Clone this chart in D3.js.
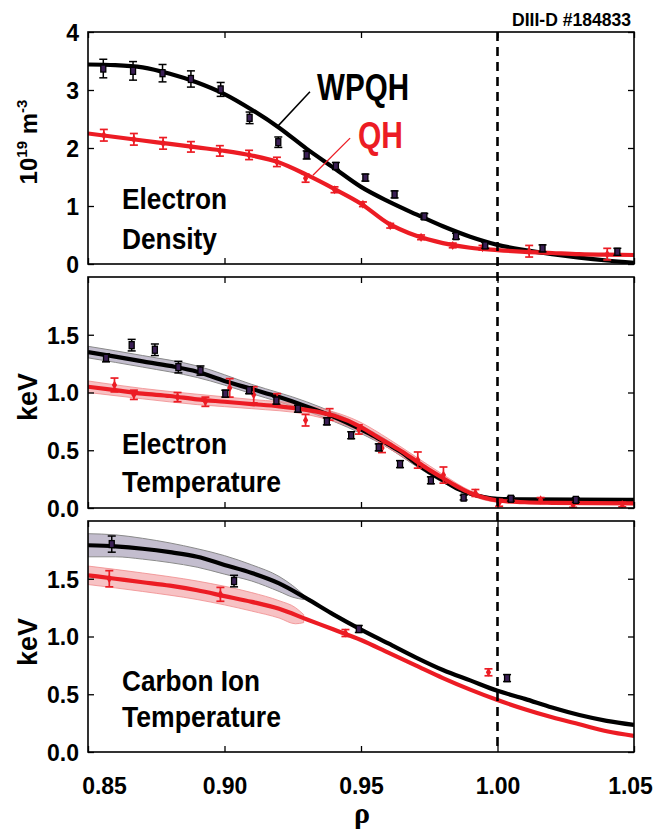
<!DOCTYPE html>
<html><head><meta charset="utf-8">
<script src="https://cdn.jsdelivr.net/npm/d3@7"></script>
<style>
body{margin:0;background:#fff;}
svg{display:block;}
text{font-family:"Liberation Sans Narrow","Arial Narrow","Liberation Sans",Arial,sans-serif;font-weight:bold;fill:#000;}
</style></head><body><svg id="chart" width="662" height="834"></svg>
<script>
// ---------- DATA ----------
const xTicks = [0.85, 0.90, 0.95, 1.00, 1.05];
const neTicks = [0, 1, 2, 3, 4];
const keVTicks = [0, 0.5, 1.0, 1.5];

// Electron density (1e19 m^-3): points [rho, value, error]
const neWPQHPoints = [[0.8556,3.37,0.16],[0.8665,3.33,0.16],[0.8773,3.29,0.15],[0.8877,3.19,0.14],[0.8986,3.01,0.12],[0.9092,2.52,0.10],[0.9197,2.10,0.09],[0.9301,1.88,0.07],[0.9408,1.69,0.06],[0.9516,1.49,0.06],[0.9623,1.20,0.06],[0.9732,0.82,0.05],[0.9848,0.48,0.05],[0.9955,0.32,0.05],[1.0165,0.27,0.06],[1.0439,0.21,0.06]];
const neQHPoints = [[0.8558,2.22,0.10],[0.8668,2.15,0.10],[0.8775,2.08,0.10],[0.8877,2.02,0.09],[0.8983,1.95,0.09],[0.9090,1.88,0.08],[0.9192,1.76,0.08],[0.9297,1.48,0.07],[0.9403,1.28,0.05],[0.9507,1.03,0.04],[0.9607,0.66,0.04],[0.9720,0.46,0.04],[0.9836,0.32,0.04],[0.9945,0.28,0.04],[1.0116,0.22,0.10],[1.0402,0.17,0.10]];
const neWPQHFit = [[0.85,3.44],[0.86,3.43],[0.87,3.39],[0.88,3.28],[0.89,3.13],[0.90,2.93],[0.91,2.66],[0.92,2.35],[0.93,1.99],[0.94,1.66],[0.95,1.33],[0.96,1.08],[0.97,0.86],[0.98,0.65],[0.99,0.47],[1.00,0.33],[1.01,0.24],[1.02,0.17],[1.03,0.11],[1.04,0.06],[1.05,0.02]];
const neQHFit = [[0.85,2.25],[0.86,2.19],[0.87,2.13],[0.88,2.07],[0.89,2.01],[0.90,1.95],[0.91,1.87],[0.92,1.75],[0.93,1.54],[0.94,1.30],[0.95,1.04],[0.96,0.70],[0.97,0.49],[0.98,0.36],[0.99,0.28],[1.00,0.24],[1.01,0.21],[1.02,0.19],[1.03,0.17],[1.04,0.16],[1.05,0.155]];

// Electron temperature (keV)
const teWPQHPoints = [[0.8566,1.30,0.035],[0.8660,1.41,0.05],[0.8745,1.37,0.05],[0.8831,1.22,0.05],[0.8912,1.19,0.04],[0.9003,0.99,0.03],[0.9090,1.02,0.03],[0.9190,0.93,0.03],[0.9269,0.86,0.03],[0.9375,0.75,0.03],[0.9464,0.63,0.03],[0.9565,0.525,0.03],[0.9643,0.38,0.03],[0.9756,0.24,0.03],[0.9876,0.09,0.02],[1.0049,0.08,0.02],[1.0287,0.07,0.02]];
const teQHPoints = [[0.8597,1.065,0.06],[0.8668,0.98,0.04],[0.8828,0.96,0.04],[0.8930,0.92,0.04],[0.9019,1.04,0.08],[0.9107,0.98,0.07],[0.9193,0.94,0.05],[0.9297,0.76,0.05],[0.9385,0.81,0.05],[0.9492,0.68,0.04],[0.9577,0.52,0.04],[0.9708,0.415,0.07],[0.9802,0.285,0.07],[0.9919,0.13,0.03],[1.0006,0.045,0.03],[1.0158,0.07,0.02],[1.0277,0.026,0.02],[1.0457,0.03,0.02]];
const teWPQHFit = [[0.85,1.35],[0.86,1.31],[0.87,1.27],[0.88,1.23],[0.89,1.18],[0.90,1.10],[0.91,1.03],[0.92,0.96],[0.93,0.88],[0.94,0.79],[0.95,0.68],[0.955,0.62],[0.96,0.55],[0.965,0.48],[0.97,0.39],[0.975,0.31],[0.98,0.24],[0.985,0.17],[0.99,0.125],[0.995,0.095],[1.00,0.08],[1.01,0.075],[1.05,0.07]];
const teQHFit = [[0.85,1.05],[0.86,1.02],[0.87,0.99],[0.88,0.97],[0.89,0.94],[0.90,0.92],[0.91,0.90],[0.92,0.88],[0.93,0.85],[0.94,0.80],[0.95,0.70],[0.955,0.63],[0.96,0.56],[0.965,0.49],[0.97,0.41],[0.975,0.33],[0.98,0.26],[0.985,0.19],[0.99,0.13],[0.995,0.09],[1.00,0.065],[1.01,0.05],[1.02,0.045],[1.05,0.04]];
// bands: [rho, low, high]
const teWPQHBand = [[0.85,1.30,1.40],[0.87,1.22,1.32],[0.89,1.13,1.23],[0.91,0.99,1.07],[0.93,0.84,0.92],[0.95,0.645,0.715],[0.96,0.52,0.58],[0.97,0.365,0.415],[0.98,0.22,0.26],[0.99,0.11,0.14],[1.00,0.07,0.09],[1.02,0.065,0.08],[1.05,0.06,0.08]];
const teQHBand = [[0.85,1.00,1.10],[0.87,0.945,1.035],[0.89,0.895,0.985],[0.91,0.86,0.94],[0.93,0.81,0.89],[0.95,0.66,0.74],[0.96,0.52,0.60],[0.97,0.375,0.445],[0.98,0.23,0.29],[0.99,0.11,0.15],[1.00,0.05,0.08],[1.02,0.035,0.055],[1.05,0.03,0.05]];

// Carbon ion temperature (keV)
const tiWPQHPoints = [[0.8587,1.80,0.07],[0.9035,1.48,0.05],[0.9492,1.065,0.03],[1.0035,0.64,0.03]];
const tiQHPoints = [[0.8578,1.50,0.07],[0.8985,1.365,0.06],[0.9443,1.03,0.03],[0.9967,0.69,0.03]];
const tiWPQHFit = [[0.85,1.79],[0.86,1.78],[0.87,1.76],[0.88,1.73],[0.89,1.69],[0.90,1.62],[0.91,1.55],[0.92,1.46],[0.93,1.33],[0.94,1.19],[0.95,1.06],[0.96,0.94],[0.97,0.82],[0.98,0.71],[0.99,0.62],[1.00,0.53],[1.01,0.46],[1.02,0.385],[1.03,0.32],[1.04,0.27],[1.05,0.235]];
const tiQHFit = [[0.85,1.53],[0.86,1.50],[0.87,1.47],[0.88,1.44],[0.89,1.40],[0.90,1.35],[0.91,1.30],[0.92,1.24],[0.93,1.15],[0.94,1.06],[0.95,0.97],[0.96,0.86],[0.97,0.75],[0.98,0.64],[0.99,0.54],[1.00,0.45],[1.01,0.37],[1.02,0.30],[1.03,0.24],[1.04,0.18],[1.05,0.14]];
const tiWPQHBand = [[0.85,1.69,1.89],[0.86,1.69,1.88],[0.87,1.67,1.85],[0.88,1.64,1.81],[0.89,1.60,1.76],[0.90,1.54,1.70],[0.91,1.48,1.62],[0.92,1.39,1.52],[0.925,1.34,1.44],[0.929,1.32,1.36]];
const tiQHBand = [[0.85,1.45,1.61],[0.87,1.39,1.55],[0.89,1.32,1.48],[0.91,1.22,1.38],[0.92,1.16,1.31],[0.926,1.11,1.25],[0.929,1.12,1.19]];

const panelTitles = [["Electron","Density"],["Electron","Temperature"],["Carbon Ion","Temperature"]];
const seriesNames = ["WPQH","QH"];
const shotLabel = "DIII-D #184833";
// annotation pointer segments in data units [rho, value]
const wpqhPointer = [[0.9313,2.97],[0.9192,2.36]];
const qhPointer = [[0.9460,2.17],[0.9324,1.53]];

// ---------- DRAW ----------
const BLACK = "#000", RED = "#ec1c24";
const svg = d3.select("#chart");
const x = d3.scaleLinear().domain([0.85, 1.05]).range([88, 634]);

const panels = [
  {domain:[0,4], range:[264,32], ticks:neTicks, fmt:d3.format("d"),
   wp:{pts:neWPQHPoints, fit:neWPQHFit}, qh:{pts:neQHPoints, fit:neQHFit},
   title:panelTitles[0], tx:122, ty:[209,249], tw:[105,95]},
  {domain:[0,2], range:[508,277], ticks:keVTicks, fmt:d3.format(".1f"),
   wp:{pts:teWPQHPoints, fit:teWPQHFit, band:teWPQHBand}, qh:{pts:teQHPoints, fit:teQHFit, band:teQHBand},
   title:panelTitles[1], tx:122, ty:[454,492], tw:[105,159]},
  {domain:[0,2], range:[752,521], ticks:keVTicks, fmt:d3.format(".1f"),
   wp:{pts:tiWPQHPoints, fit:tiWPQHFit, band:tiWPQHBand}, qh:{pts:tiQHPoints, fit:tiQHFit, band:tiQHBand},
   title:panelTitles[2], tx:122, ty:[691,727], tw:[138,159]}
];

panels.forEach((p, i) => {
  const y = d3.scaleLinear().domain(p.domain).range(p.range);
  p.y = y;
  const top = p.range[1], bot = p.range[0];
  const g = svg.append("g");
  const cid = "clip" + i;
  svg.append("clipPath").attr("id", cid).append("rect")
    .attr("x", x.range()[0]).attr("y", top).attr("width", x.range()[1]-x.range()[0]).attr("height", bot-top);
  const plot = g.append("g").attr("clip-path", `url(#${cid})`);

  // title text
  p.title.forEach((t, k) => {
    g.append("text").attr("x", p.tx).attr("y", p.ty[k]).attr("font-size", 29)
      .attr("textLength", p.tw[k]).attr("lengthAdjust", "spacingAndGlyphs").text(t);
  });

  // bands
  const area = d3.area().x(d => x(d[0])).y0(d => y(d[1])).y1(d => y(d[2])).curve(d3.curveMonotoneX);
  if (p.wp.band) plot.append("path").datum(p.wp.band).attr("d", area)
      .attr("fill", "#b9b1c6").attr("fill-opacity", 0.85).attr("stroke", "#8a8a8a").attr("stroke-width", 1);
  if (p.qh.band) plot.append("path").datum(p.qh.band).attr("d", area)
      .attr("fill", "#f29a9c").attr("fill-opacity", 0.6).attr("stroke", "#f08a8c").attr("stroke-width", 0.8);

  const line = d3.line().x(d => x(d[0])).y(d => y(d[1])).curve(d3.curveMonotoneX);
  plot.append("path").datum(p.wp.fit).attr("d", line).attr("fill","none").attr("stroke", BLACK).attr("stroke-width", 4.2);
  plot.append("path").datum(p.qh.fit).attr("d", line).attr("fill","none").attr("stroke", RED).attr("stroke-width", 4.2);

  // error bars
  const drawErr = (pts, col, sw) => {
    const eg = plot.append("g").attr("stroke", col).attr("stroke-width", sw);
    pts.forEach(d => {
      const cx = x(d[0]), y1 = y(d[1]+d[2]), y2 = y(d[1]-d[2]);
      eg.append("line").attr("x1", cx).attr("x2", cx).attr("y1", y1).attr("y2", y2);
      eg.append("line").attr("x1", cx-4).attr("x2", cx+4).attr("y1", y1).attr("y2", y1);
      eg.append("line").attr("x1", cx-4).attr("x2", cx+4).attr("y1", y2).attr("y2", y2);
    });
  };
  drawErr(p.qh.pts, RED, 1.7);
  plot.append("g").selectAll("path").data(p.qh.pts).join("path")
    .attr("d", d3.symbol().type(d3.symbolDiamond).size(24))
    .attr("transform", d => `translate(${x(d[0])},${y(d[1])})`).attr("fill", RED);
  drawErr(p.wp.pts, BLACK, 1.5);
  plot.append("g").selectAll("rect").data(p.wp.pts).join("rect")
    .attr("x", d => x(d[0]) - 2.5).attr("y", d => y(d[1]) - 3.5).attr("width", 5).attr("height", 7)
    .attr("fill", "#3b1f55").attr("stroke", BLACK).attr("stroke-width", 1.3);

  // axes with inward ticks
  const yl = g.append("g").attr("transform", `translate(${x.range()[0]},0)`)
    .call(d3.axisLeft(y).tickValues(p.ticks).tickFormat(p.fmt).tickSize(-6).tickPadding(9));
  yl.selectAll("text").attr("font-size", 23).attr("dy", "0.36em");
  g.append("g").attr("transform", `translate(${x.range()[1]},0)`)
    .call(d3.axisRight(y).tickValues(p.ticks).tickFormat("").tickSize(-6));
  g.append("g").attr("transform", `translate(0,${top})`)
    .call(d3.axisTop(x).tickValues(xTicks).tickFormat("").tickSize(-6));
  const xb = g.append("g").attr("transform", `translate(0,${bot})`)
    .call(d3.axisBottom(x).tickValues(xTicks).tickFormat(i === 2 ? d3.format(".2f") : "").tickSize(-6).tickPadding(26));
  xb.selectAll("text").attr("font-size", 23);
  if (i === 2) xb.selectAll(".tick text").filter((d, k) => k === 0).attr("dx", 16);
  if (i === 2) xb.selectAll(".tick text").filter((d, k) => k === 4).attr("dx", -4);
  g.selectAll(".domain").attr("stroke", "none");
  g.selectAll(".tick line").attr("stroke", BLACK).attr("stroke-width", 1.3);
  g.selectAll(".tick text").attr("fill", BLACK).attr("font-family", null);
  // frame
  g.append("rect").attr("x", x.range()[0]).attr("y", top).attr("width", x.range()[1]-x.range()[0]).attr("height", bot-top)
    .attr("fill", "none").attr("stroke", BLACK).attr("stroke-width", 1.6);
});

// separatrix dashed line
svg.append("line").attr("x1", x(1.0)).attr("x2", x(1.0))
  .attr("y1", panels[0].range[1]).attr("y2", panels[2].range[0])
  .attr("stroke", BLACK).attr("stroke-width", 2.6).attr("stroke-dasharray", "9,6");

// series labels and pointers
const y0 = panels[0].y;
svg.append("line").attr("x1", x(wpqhPointer[0][0])).attr("y1", y0(wpqhPointer[0][1]))
  .attr("x2", x(wpqhPointer[1][0])).attr("y2", y0(wpqhPointer[1][1])).attr("stroke", BLACK).attr("stroke-width", 1.5);
svg.append("line").attr("x1", x(qhPointer[0][0])).attr("y1", y0(qhPointer[0][1]))
  .attr("x2", x(qhPointer[1][0])).attr("y2", y0(qhPointer[1][1])).attr("stroke", RED).attr("stroke-width", 1.3);
svg.append("text").attr("x", 317).attr("y", 100).attr("font-size", 37)
  .attr("textLength", 92).attr("lengthAdjust", "spacingAndGlyphs").text(seriesNames[0]);
svg.append("text").attr("x", 358).attr("y", 148).attr("font-size", 37).style("fill", RED)
  .attr("textLength", 45).attr("lengthAdjust", "spacingAndGlyphs").text(seriesNames[1]);

svg.append("text").attr("x", 631).attr("y", 26).attr("font-size", 18).attr("text-anchor", "end")
  .attr("textLength", 119).attr("lengthAdjust", "spacingAndGlyphs").text(shotLabel);

// y-axis titles
const yt1 = svg.append("text").attr("transform", "translate(37,142) rotate(-90)").attr("text-anchor", "middle").attr("font-size", 24);
yt1.append("tspan").text("10");
yt1.append("tspan").attr("font-size", 15).attr("dy", -10).text("19");
yt1.append("tspan").attr("dy", 10).text(" m");
yt1.append("tspan").attr("font-size", 15).attr("dy", -10).text("-3");
svg.append("text").attr("transform", "translate(37,397) rotate(-90)").attr("text-anchor", "middle").attr("font-size", 27).text("keV");
svg.append("text").attr("transform", "translate(37,642) rotate(-90)").attr("text-anchor", "middle").attr("font-size", 27).text("keV");

// x-axis title
svg.append("text").attr("x", 362).attr("y", 823).attr("text-anchor", "middle").attr("font-size", 30)
  .style("font-family", "'Liberation Serif','Times New Roman',serif").text("ρ");
</script></body></html>
